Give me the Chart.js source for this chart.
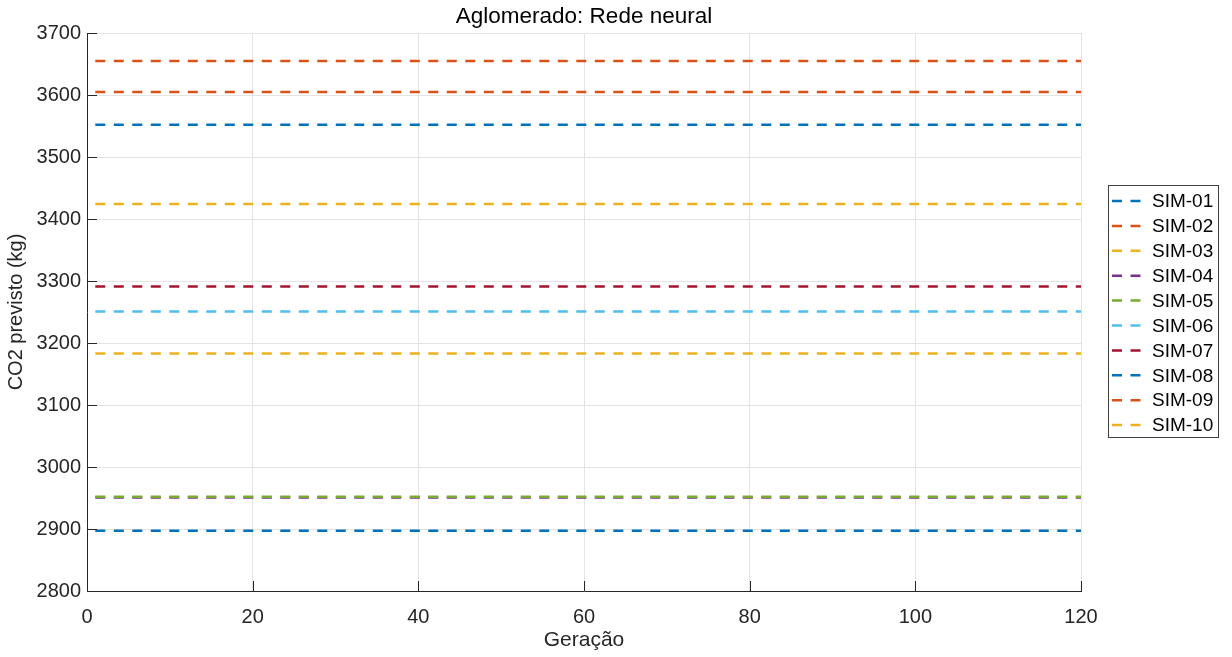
<!DOCTYPE html>
<html>
<head>
<meta charset="utf-8">
<script src="https://cdn.jsdelivr.net/npm/chart.js"></script>
<style>
  html, body { margin: 0; padding: 0; background: #fff; }
  #wrap { width: 1232px; height: 657px; position: relative; }
</style>
</head>
<body>
<div id="wrap"><canvas id="grafico"></canvas></div>
<script>
// dados
const simLabels = ['SIM-01', 'SIM-02', 'SIM-03', 'SIM-04', 'SIM-05', 'SIM-06', 'SIM-07', 'SIM-08', 'SIM-09', 'SIM-10']
const simValues = [3552, 3605, 3424, 2951, 2952, 3251, 3291, 2897, 3655, 3183]
const geracoes = [1, 120]
const xTicks = [0, 20, 40, 60, 80, 100, 120]
const yTicks = [2800, 2900, 3000, 3100, 3200, 3300, 3400, 3500, 3600, 3700]

const cores = ['#0072BD', '#D95319', '#EDB120', '#7E2F8E', '#77AC30', '#4DBEEE', '#A2142F', '#0072BD', '#D95319', '#EDB120']
const fonte = '"Liberation Sans", Arial, sans-serif'
const txt = '#262626'
const traco = [10, 8.5]

const datasets = simLabels.map((nome, i) => ({
  label: nome,
  data: geracoes.map(g => ({x: g, y: simValues[i]})),
  borderColor: cores[i],
  backgroundColor: cores[i],
  borderWidth: 2.5,
  borderDash: traco,
  pointRadius: 0,
  fill: false,
  order: simLabels.length - i
}))

// ticks para dentro, como no matlab
const ticksDentro = {
  id: 'ticksDentro',
  afterDraw(chart) {
    const {ctx, chartArea: a, scales} = chart
    ctx.save()
    ctx.strokeStyle = txt
    ctx.lineWidth = 1
    ctx.beginPath()
    xTicks.forEach(t => {
      const px = Math.round(scales.x.getPixelForValue(t)) + 0.5
      ctx.moveTo(px, a.bottom)
      ctx.lineTo(px, a.bottom - 10)
    })
    yTicks.forEach(t => {
      const py = Math.round(scales.y.getPixelForValue(t)) + 0.5
      ctx.moveTo(a.left, py)
      ctx.lineTo(a.left + 10, py)
    })
    ctx.stroke()
    ctx.restore()
  }
}

// legenda com caixa a direita
const legendaCaixa = {
  id: 'legendaCaixa',
  afterDraw(chart) {
    const ctx = chart.ctx
    const x0 = 1108, y0 = 185, w = 110, h = 252
    ctx.save()
    ctx.fillStyle = '#fff'
    ctx.fillRect(x0, y0, w, h)
    ctx.strokeStyle = '#404040'
    ctx.lineWidth = 1
    ctx.strokeRect(x0 + 0.5, y0 + 0.5, w, h)
    ctx.font = '19px ' + fonte
    ctx.textBaseline = 'middle'
    chart.data.datasets.forEach((ds, i) => {
      const y = 201 + i * 24.9
      ctx.strokeStyle = ds.borderColor
      ctx.lineWidth = 2.5
      ctx.setLineDash(traco)
      ctx.beginPath()
      ctx.moveTo(1112, y)
      ctx.lineTo(1142, y)
      ctx.stroke()
      ctx.setLineDash([])
      ctx.fillStyle = '#000'
      ctx.fillText(ds.label, 1152, y + 1)
    })
    ctx.restore()
  }
}

new Chart('grafico', {
  type: 'line',
  data: { datasets: datasets },
  plugins: [ticksDentro, legendaCaixa],
  options: {
    responsive: true,
    maintainAspectRatio: false,
    animation: false,
    layout: { padding: { left: 0, right: 151, top: 0, bottom: 0 } },
    plugins: {
      legend: { display: false },
      tooltip: { enabled: false },
      title: {
        display: true,
        text: 'Aglomerado: Rede neural',
        fullSize: false,
        color: '#000',
        font: { family: fonte, size: 22.5, weight: 'normal' },
        padding: { top: 3, bottom: 3 }
      }
    },
    scales: {
      x: {
        type: 'linear',
        min: 0,
        max: 120,
        afterBuildTicks: s => { s.ticks = xTicks.map(v => ({value: v})) },
        afterFit: s => { s.height = 66 },
        ticks: { color: txt, font: { family: fonte, size: 20 }, padding: 14, maxRotation: 0, callback: v => String(v) },
        grid: { color: '#e3e3e3', drawTicks: false },
        border: { color: txt, width: 1 },
        title: { display: true, text: 'Geração', color: txt, font: { family: fonte, size: 21 }, padding: { top: 0 } }
      },
      y: {
        min: 2800,
        max: 3700,
        afterBuildTicks: s => { s.ticks = yTicks.map(v => ({value: v})) },
        afterFit: s => { s.width = 87 },
        ticks: { color: txt, font: { family: fonte, size: 20 }, padding: 6, callback: v => String(v) },
        grid: { color: '#e3e3e3', drawTicks: false },
        border: { color: txt, width: 1 },
        title: { display: true, text: 'CO2 previsto (kg)', color: txt, font: { family: fonte, size: 20 }, padding: { bottom: 2 } }
      }
    }
  }
})
</script>
</body>
</html>
